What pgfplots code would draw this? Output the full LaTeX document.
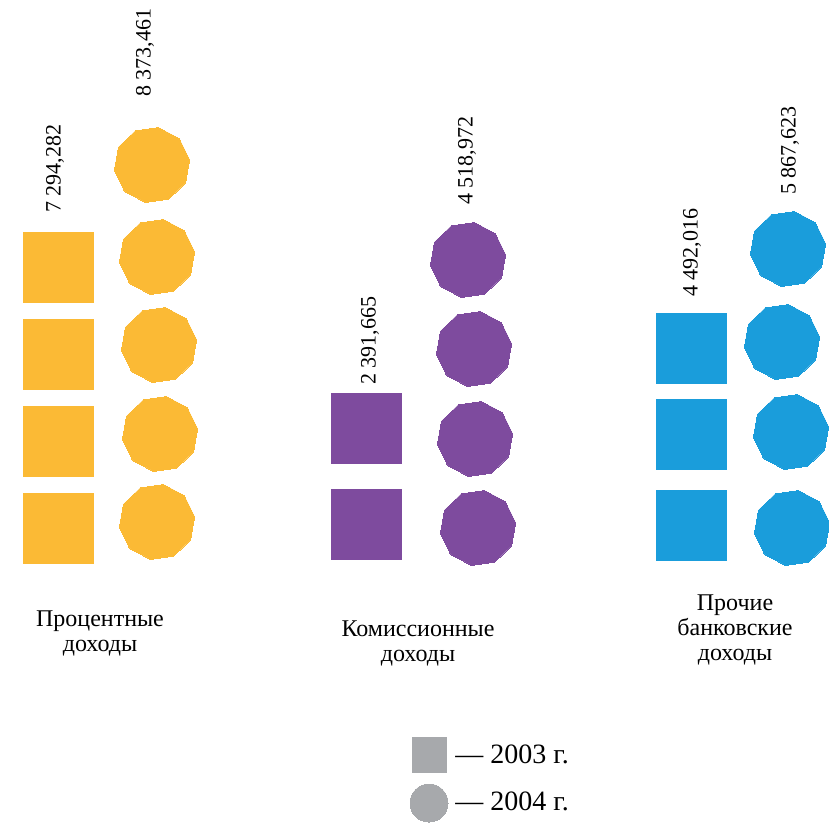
\documentclass[border=0pt]{standalone}
\usepackage{fontspec}
\setmainfont{Liberation Serif}
\usepackage{pgfplots}
\pgfplotsset{compat=1.18}
\definecolor{cYel}{HTML}{FBBA35}
\definecolor{cPur}{HTML}{7E4B9E}
\definecolor{cBlu}{HTML}{1A9DDB}
\definecolor{cGry}{HTML}{A7A9AC}
\pgfdeclareplotmark{dec*}{%
  \pgfpathmoveto{\pgfpointpolar{8}{\pgfplotmarksize}}%
  \pgfpathlineto{\pgfpointpolar{44}{\pgfplotmarksize}}%
  \pgfpathlineto{\pgfpointpolar{80}{\pgfplotmarksize}}%
  \pgfpathlineto{\pgfpointpolar{116}{\pgfplotmarksize}}%
  \pgfpathlineto{\pgfpointpolar{152}{\pgfplotmarksize}}%
  \pgfpathlineto{\pgfpointpolar{188}{\pgfplotmarksize}}%
  \pgfpathlineto{\pgfpointpolar{224}{\pgfplotmarksize}}%
  \pgfpathlineto{\pgfpointpolar{260}{\pgfplotmarksize}}%
  \pgfpathlineto{\pgfpointpolar{296}{\pgfplotmarksize}}%
  \pgfpathlineto{\pgfpointpolar{332}{\pgfplotmarksize}}%
  \pgfpathclose
  \pgfusepathqfillstroke}
\begin{document}
\begin{tikzpicture}
\begin{axis}[
  scale only axis, width=414.5pt, height=412pt,
  xmin=0, xmax=829, ymin=0, ymax=824,
  hide axis, clip=false,
  every axis plot/.append style={only marks},
]
% 2003 squares
\addplot[mark=square*, mark size=17.5pt, mark options={draw=cYel, fill=cYel, line width=0pt}]
  coordinates {(58,556) (58,469) (58,382) (58,295)};
\addplot[mark=square*, mark size=17.5pt, mark options={draw=cPur, fill=cPur, line width=0pt}]
  coordinates {(366,395) (366,299)};
\addplot[mark=square*, mark size=17.5pt, mark options={draw=cBlu, fill=cBlu, line width=0pt}]
  coordinates {(691,475) (691,389) (691,298)};
% 2004 polygons
\addplot[mark=dec*, mark size=19pt, mark options={draw=cYel, fill=cYel, line width=0pt}]
  coordinates {(152,659) (157,567) (159,479) (160,390) (157,302)};
\addplot[mark=dec*, mark size=19pt, mark options={draw=cPur, fill=cPur, line width=0pt}]
  coordinates {(468,564) (474,475) (475,385) (478,296)};
\addplot[mark=dec*, mark size=19pt, mark options={draw=cBlu, fill=cBlu, line width=0pt}]
  coordinates {(788,575) (782,482) (791,392) (792,296)};
% value labels
\addplot[mark=none, nodes near coords, point meta=explicit symbolic,
  nodes near coords style={rotate=90, anchor=west, inner sep=0pt, font=\fontsize{11}{13}\selectfont, text=black}]
  coordinates {(55,611)[{7 294,282}] (145,727)[{8 373,461}] (370,439)[{2 391,665}]
               (467,619)[{4 518,972}] (692,527)[{4 492,016}] (790,629)[{5 867,623}]};
% legend marks
\addplot[mark=square*, mark size=8.5pt, mark options={draw=cGry, fill=cGry, line width=0pt}]
  coordinates {(429,69)};
\addplot[mark=*, mark size=9.5pt, mark options={draw=cGry, fill=cGry, line width=0pt}]
  coordinates {(429,21)};
% category labels
\node[align=center, font=\fontsize{12}{12.5}\selectfont] at (axis cs:100,191) {Процентные\\доходы};
\node[align=center, font=\fontsize{12}{12.5}\selectfont] at (axis cs:418,181) {Комиссионные\\доходы};
\node[align=center, font=\fontsize{12}{12.5}\selectfont] at (axis cs:735,194) {Прочие\\банковские\\доходы};
% legend text
\node[anchor=base west, inner sep=0pt, font=\fontsize{14}{16}\selectfont] at (axis cs:455,61) {— 2003 г.};
\node[anchor=base west, inner sep=0pt, font=\fontsize{14}{16}\selectfont] at (axis cs:455,14) {— 2004 г.};
\end{axis}
\pgfresetboundingbox
\path (0,0) rectangle (414.5pt,412pt);
\end{tikzpicture}
\end{document}
